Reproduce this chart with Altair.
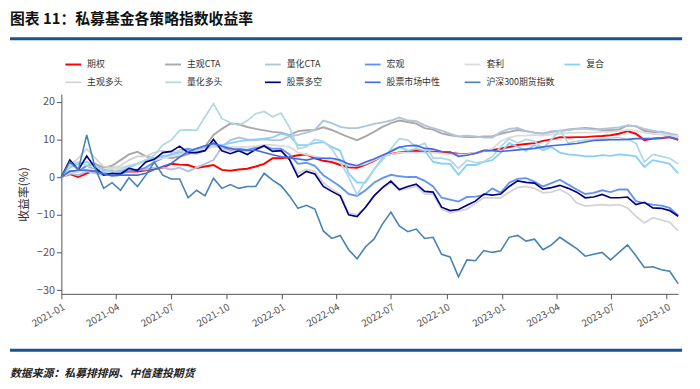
import altair as alt
import pandas as pd

# ---------------- data ----------------
dates = pd.date_range("2021-01-01", periods=74, freq="14D")

names = ["期权", "主观CTA", "量化CTA", "宏观", "套利", "复合",
         "主观多头", "量化多头", "股票多空", "股票市场中性", "沪深300期货指数"]
colors = ["#FF0000", "#A9A9A9", "#B0C4DE", "#6495ED", "#DCDCDC", "#87CEFA",
          "#D3D3D3", "#ADD8E6", "#000080", "#4169E1", "#4682B4"]

qiquan = [0, 0.8, 0, 1, 1.7, 1.9, 1.7, 1.5, 1.5, 1.5,
          1.8, 2.1, 2.5, 3.5, 3.3, 3.2, 2.4, 2.8, 3.2, 1.9,
          1.7, 2, 2.2, 2.8, 3.5, 5, 5, 5.3, 5.8, 6,
          5, 4.3, 4, 3.2, 2.6, 2.5, 3.3, 4.3, 5.6, 6.1,
          6.5, 6.8, 7, 6.8, 6.7, 6.5, 6.4, 6.2, 6.1, 6.3,
          7, 7.2, 7.5, 8, 8.5, 8.8, 9, 9.6, 10, 10.6,
          10.5, 10.6, 10.6, 10.8, 10.9, 11.1, 11.5, 12.2, 11.5, 9.8,
          10.2, 10.3, 10.6, 9.9]
zhuguan_cta = [0, 1.5, 1.5, 3, 3.5, 2.5, 3, 4.5, 6, 6.7,
               5.5, 5, 5.5, 5, 5.5, 6, 7, 8, 11.2, 12.8,
               14.2, 14, 13.3, 12.8, 12.4, 12, 11.8, 11.1, 12.2, 12.4,
               12.5, 13.2, 12.5, 11.5, 10.6, 9.8, 10.8, 12, 13.3, 14.3,
               15, 14.6, 14.2, 13, 12.6, 11.6, 11.1, 10.8, 10.6, 10.6,
               10.8, 10.8, 11.5, 12, 12.5, 12.2, 11.8, 11.5, 12, 12.2,
               12.6, 12.8, 13, 12.8, 12.5, 12.4, 12.6, 13.7, 13.5, 12.3,
               11.9, 12, 11.5, 10.6]
lianghua_cta = [0, 1, 0.5, 1.5, 1, 0.5, 0.5, 1, 1.5, 2,
                2, 2.5, 2.5, 2, 2.5, 1.5, 2.5, 3.5, 4.5, 8,
                9.8, 10.5, 10, 9.8, 10, 9.8, 9.8, 10.8, 11.2, 11.8,
                12.5, 15, 14.3, 13.3, 13, 13, 13.5, 14.1, 14.5, 15,
                15.8, 15, 14.8, 13.7, 13, 12.3, 11.5, 10.8, 11, 10.8,
                10.5, 10.5, 11.9, 12.8, 13, 12.2, 11.8, 11.5, 12.2, 12.3,
                12.5, 12.8, 12.8, 12.6, 12.8, 13, 13.2, 13.7, 13.5, 12.8,
                12.3, 11.9, 11.5, 11.1]
hongguan = [0, 1.5, 1.5, 3, 2, 1, 0.8, 1, 1.5, 1.8,
            2.5, 4, 5, 6, 7, 7.5, 7, 7.5, 9, 8,
            7, 7.5, 7.2, 7.8, 8.2, 7.5, 7.5, 6, 3.5, 3.8,
            3, 0.5, -1, -2.5, -4.5, -5, -3.5, -1.5, -0.3, 0.6,
            0.2, 0, 0, -1, -2.5, -5.5, -6, -6.5, -5.3, -5.2,
            -4.8, -3, -4.2, -1.5, -0.5, -0.3, -1.2, -2.5, -1.6, -0.7,
            -2, -3.3, -4.5, -4.2, -3.5, -4, -3.3, -3.3, -6.4, -6.9,
            -7.3, -7.6, -8.2, -10.2]
taoli = [0, 1, 1.5, 2, 2, 2, 2.2, 2.5, 3, 3.5,
         4, 4.5, 5, 5.5, 6, 6.5, 7, 7.5, 8, 8,
         8, 8, 8, 8.2, 8.5, 8.5, 8.3, 8, 6.5, 6,
         5.5, 5, 4.5, 4, 3, 3, 3.5, 4.5, 5.5, 6,
         6.5, 6.5, 6.5, 6.5, 6.5, 6.3, 6, 6, 6, 6.5,
         6.8, 7.5, 9.5, 10.5, 11, 11, 11.2, 11, 11.3, 11.5,
         11.7, 11.8, 11.8, 11.8, 12, 12, 12.2, 12.5, 12.3, 11.8,
         11.5, 11.3, 11, 10.8]
fuhe = [0, 2.5, 3.5, 4, 3, 2, 1.5, 1.5, 2.5, 3.5,
        4.5, 5, 5.5, 6, 6.5, 7, 7.5, 8, 8.5, 8.5,
        9, 9.5, 9.8, 10, 10.2, 10.5, 11.5, 11, 8.5, 8.5,
        9, 9.3, 8, 7, 1, -1.5, -1.5, 2, 5, 7.1,
        8, 7, 7.5, 7, 4, 3.6, 3.5, 0.6, 3.2, 3.2,
        4, 4.5, 6.5, 9, 8, 7, 8.5, 7.1, 8, 6.5,
        6, 5.8, 5.5, 5.5, 5.8, 5.6, 6, 5.8, 5.5, 2.7,
        4.5, 4, 3.5, 1]
zhuguan_duotou = [0, 3, 5, 7.5, 5, 2.8, 2.5, 3, 4.5, 5.5,
                  5.5, 6.5, 7, 6.5, 7, 6.5, 6, 7, 8.5, 7.5,
                  6.8, 7, 6.8, 7.3, 8, 7, 6.8, 5, 1, 2,
                  1.5, -1.5, -3.3, -4.5, -9.5, -10, -8, -5, -3, -1.5,
                  -3.5, -3, -2.5, -4.5, -4.5, -8.5, -9.5, -9, -8.5, -7,
                  -5.5, -5.5, -5.5, -4, -2.8, -2.5, -3, -4.2, -4, -3.3,
                  -4.5, -6.9, -7.7, -7.5, -7.3, -7.5, -7.3, -8.2, -10.4, -12.2,
                  -10.8, -11.4, -12, -14.3]
lianghua_duotou = [0, 3, 4, 3, 2.5, 1.5, 1.5, 2, 3, 3.5,
                   4.5, 5.8, 8.5, 9.8, 12.4, 12.5, 12.4, 16, 19.5, 15.5,
                   14.5, 13.7, 15, 16.8, 17.4, 16, 17, 13.2, 7.5, 8,
                   10, 9.5, 7.5, 4, 0, -4.7, -1, 2, 4.5, 7.5,
                   10.2, 9.8, 8, 9, 5, 5, 4.5, 2.3, 4.5, 3.8,
                   4.1, 5.4, 8, 10.2, 9, 10, 9.5, 7.5, 10, 12.4,
                   9, 9.5, 9.8, 10, 10.2, 10.3, 10.5, 10, 9, 4,
                   6, 5.5, 5, 3.5]
gupiao_duokong = [0, 4.5, 1.9, 5.6, 2.5, 0.5, 1, 0.8, 2.3, 1.8,
                  4, 4.7, 6.5, 6.8, 8.2, 6.5, 6.5, 7, 10, 7,
                  6.2, 7, 6, 7.3, 8.3, 6.8, 7, 4.6, 0, 1.5,
                  0.8, -2.5, -3.8, -5, -10, -10.5, -8, -5, -2.8, -1.1,
                  -3.3, -2.5, -1.9, -3.8, -4, -8, -8.9, -8.6, -7.5, -6.4,
                  -4.5, -4.8, -4.5, -2.5, -1, -1.4, -1.6, -3.2, -2.8, -2.2,
                  -3, -4, -5.5, -5.3, -4.6, -5.5, -5.5, -5.3, -7.3, -6.7,
                  -8.2, -8.3, -8.9, -10.4]
shichang_zhongxing = [0, 1.5, 1.8, 1.8, 1.5, 0.8, 0.3, 0.5, 0.5, 0.5,
                      1, 2, 2.8, 3.6, 5.3, 6.7, 7.6, 8.3, 8.9, 8.2,
                      7.6, 7.2, 7.1, 7.1, 6.5, 5.9, 5.4, 5.1, 4.8, 4.5,
                      5, 5, 5, 4.5, 3.5, 3, 4, 4.8, 5.8, 6.8,
                      7.9, 8.3, 8.4, 7.6, 7.4, 6.8, 6.7, 5.5, 5.8, 6.3,
                      7, 7, 6.8, 7, 7.2, 7.4, 7.6, 8, 8.3, 8.5,
                      8.7, 8.9, 9.3, 9.7, 9.8, 9.9, 9.9, 10, 10.2, 10.2,
                      10.2, 10.4, 10.6, 9.9]
hs300 = [0, 4, 1.9, 11.2, 2.4, -3, -1.5, -3.5, -0.2, -2.5,
         0.5, 4, 0.5, -0.5, -0.5, -5.5, -3.5, -5, -0.3, -3,
         -2, -3, -2.5, -2.5, 1, -0.8, -2.3, -5, -8.3, -7.5,
         -8.5, -14.3, -16.3, -15.5, -19.3, -21.7, -18.5, -16.5, -12.5, -9.3,
         -13, -14.5, -13.8, -16.3, -16, -20.5, -21.2, -26.5, -22, -22.2,
         -19.5, -20, -19.6, -16, -15.5, -17, -16.5, -19.3, -18, -16,
         -17.5, -19, -21, -20.5, -20, -22, -20, -18, -20.9, -24,
         -23.8, -24.6, -25, -28.3]

series_values = [qiquan, zhuguan_cta, lianghua_cta, hongguan, taoli, fuhe,
                 zhuguan_duotou, lianghua_duotou, gupiao_duokong,
                 shichang_zhongxing, hs300]

y_ticks = [-30, -20, -10, 0, 10, 20]
x_ticks = [(2021, 1), (2021, 4), (2021, 7), (2021, 10),
           (2022, 1), (2022, 4), (2022, 7), (2022, 10),
           (2023, 1), (2023, 4), (2023, 7), (2023, 10)]

title_text = "图表 11：私募基金各策略指数收益率"
source_text = "数据来源：私募排排网、中信建投期货"

rows = []
for k, (nm, vals) in enumerate(zip(names, series_values)):
    for d, v in zip(dates, vals):
        rows.append({"date": d, "series": nm, "value": v, "k": k})
df = pd.DataFrame(rows)

FONT = "Noto Sans CJK SC"
widths = [2 if n in ("期权", "股票多空") else 1.6 for n in names]

lines = alt.Chart(df).mark_line(interpolate="linear").encode(
    x=alt.X("date:T",
            scale=alt.Scale(domain=[alt.DateTime(year=2021, month=1, date=1),
                                    alt.DateTime(year=2023, month=10, date=20)]),
            axis=alt.Axis(values=[alt.DateTime(year=y, month=m, date=1) for y, m in x_ticks],
                          format="%Y-%m", labelAngle=330, labelFontSize=10,
                          labelFont=FONT, labelColor="#555555", tickSize=5,
                          tickColor="#555555", domainColor="#555555",
                          labelPadding=3, grid=False, title=None)),
    y=alt.Y("value:Q",
            scale=alt.Scale(domain=[-31, 22], nice=False, zero=False),
            axis=alt.Axis(values=y_ticks, title="收益率(%)", titleFont=FONT,
                          titleFontSize=12, titleFontWeight="normal",
                          titleColor="#333333", titlePadding=6,
                          labelFont=FONT, labelFontSize=11, labelColor="#555555",
                          tickSize=5, tickColor="#555555", domainColor="#555555",
                          grid=False)),
    color=alt.Color("series:N",
                    scale=alt.Scale(domain=names, range=colors),
                    sort=names,
                    legend=alt.Legend(orient="none", legendX=3, legendY=-39,
                                      direction="horizontal", columns=6,
                                      symbolType="stroke", symbolSize=256,
                                      symbolStrokeWidth=2, labelFont=FONT,
                                      labelFontSize=9, labelColor="#333333",
                                      gridAlign="all", columnPadding=6,
                                      rowPadding=4, labelOffset=5, title=None)),
    strokeWidth=alt.StrokeWidth("series:N",
                                scale=alt.Scale(domain=names, range=widths),
                                legend=None),
    detail="series:N",
)

title_mark = alt.Chart(pd.DataFrame({"t": [title_text]})).mark_text(
    align="left", baseline="middle", font=FONT, fontSize=15, fontWeight="bold",
    color="#111111").encode(text="t:N", x=alt.value(-52), y=alt.value(-76))

source_mark = alt.Chart(pd.DataFrame({"t": [source_text]})).mark_text(
    align="left", baseline="middle", font=FONT, fontSize=11, fontWeight="bold",
    fontStyle="italic", color="#222222").encode(text="t:N", x=alt.value(-52), y=alt.value(283))

rule_top = alt.Chart(pd.DataFrame({"a": [0]})).mark_rule(
    color="#1A5490", strokeWidth=3).encode(x=alt.value(-52), x2=alt.value(628), y=alt.value(-56))
rule_bottom = alt.Chart(pd.DataFrame({"a": [0]})).mark_rule(
    color="#1A5490", strokeWidth=3).encode(x=alt.value(-52), x2=alt.value(628), y=alt.value(259))

chart = alt.layer(lines, title_mark, source_mark, rule_top, rule_bottom).properties(
    width=624, height=202,
    padding={"left": 54, "top": 85, "right": 14, "bottom": 86},
    autosize=alt.AutoSizeParams(type="none"),
).configure_view(stroke=None)

chart.save("out.html", embed_options={"renderer": "svg", "actions": False})
